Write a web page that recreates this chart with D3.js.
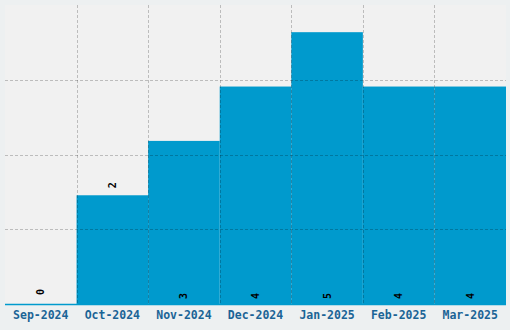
<!DOCTYPE html>
<html>
<head>
<script src="https://cdn.jsdelivr.net/npm/d3@7"></script>
<style>
  body { margin: 0; background: #edf0f1; }
</style>
</head>
<body>
<script>
var months = ["Sep-2024", "Oct-2024", "Nov-2024", "Dec-2024", "Jan-2025", "Feb-2025", "Mar-2025"];
var counts = [0, 2, 3, 4, 5, 4, 4];
var labelAbove = [false, true, false, false, false, false, false];

var width = 510, height = 330;
var plotLeft = 5, plotRight = 506, plotTop = 5, plotBottom = 304;

var svg = d3.select("body").append("svg")
    .attr("width", width)
    .attr("height", height);

var x = d3.scaleBand().domain(months).range([plotLeft, plotRight]).padding(0);
var y = d3.scaleLinear().domain([0, 5.5]).range([plotBottom, plotTop]);

svg.append("rect")
    .attr("x", plotLeft).attr("y", plotTop)
    .attr("width", plotRight - plotLeft).attr("height", plotBottom - plotTop)
    .attr("fill", "#f1f1f1");

svg.selectAll("rect.bar")
    .data(counts)
    .enter()
    .append("rect")
    .attr("class", "bar")
    .attr("x", function (d, i) { return x(months[i]); })
    .attr("y", function (d) { return y(d); })
    .attr("width", x.bandwidth())
    .attr("height", function (d) { return plotBottom - y(d); })
    .attr("fill", "#009acd");

// baseline
svg.append("line")
    .attr("x1", plotLeft).attr("x2", plotRight)
    .attr("y1", plotBottom + 0.5).attr("y2", plotBottom + 0.5)
    .attr("stroke", "#009acd").attr("stroke-width", 1.5);

// grid on top of bars
var gridY = d3.range(1, 4).map(function (k) { return 5.5 * k / 4; });
svg.selectAll("line.gy")
    .data(gridY)
    .enter()
    .append("line")
    .attr("x1", plotLeft).attr("x2", plotRight)
    .attr("y1", function (d) { return Math.round(y(d)) + 0.5; })
    .attr("y2", function (d) { return Math.round(y(d)) + 0.5; })
    .attr("stroke", "rgba(0,0,0,0.22)")
    .attr("stroke-dasharray", "3,2");

svg.selectAll("line.gx")
    .data(months.slice(1))
    .enter()
    .append("line")
    .attr("x1", function (d) { return Math.round(x(d)) + 0.5; })
    .attr("x2", function (d) { return Math.round(x(d)) + 0.5; })
    .attr("y1", plotTop).attr("y2", plotBottom)
    .attr("stroke", "rgba(0,0,0,0.22)")
    .attr("stroke-dasharray", "3,2");

// value labels
svg.selectAll("text.val")
    .data(counts)
    .enter()
    .append("text")
    .attr("class", "val")
    .attr("transform", function (d, i) {
        var cx = x(months[i]) + x.bandwidth() / 2;
        var cy = labelAbove[i] ? y(d) - 7 : (d === 0 ? plotBottom - 9 : plotBottom - 5);
        return "translate(" + cx + "," + cy + ") rotate(-90)";
    })
    .attr("dy", "0.35em")
    .attr("text-anchor", "start")
    .style("font-family", "DejaVu Sans Mono")
    .style("font-weight", "bold")
    .style("font-size", "10px")
    .attr("fill", "#000")
    .text(function (d) { return d; });

// x axis labels
svg.selectAll("text.xl")
    .data(months)
    .enter()
    .append("text")
    .attr("class", "xl")
    .attr("x", function (d) { return x(d) + x.bandwidth() / 2; })
    .attr("y", 319)
    .attr("text-anchor", "middle")
    .style("font-family", "DejaVu Sans Mono")
    .style("font-weight", "bold")
    .style("font-size", "11.5px")
    .attr("fill", "#1b6496")
    .text(function (d) { return d; });
</script>
</body>
</html>
